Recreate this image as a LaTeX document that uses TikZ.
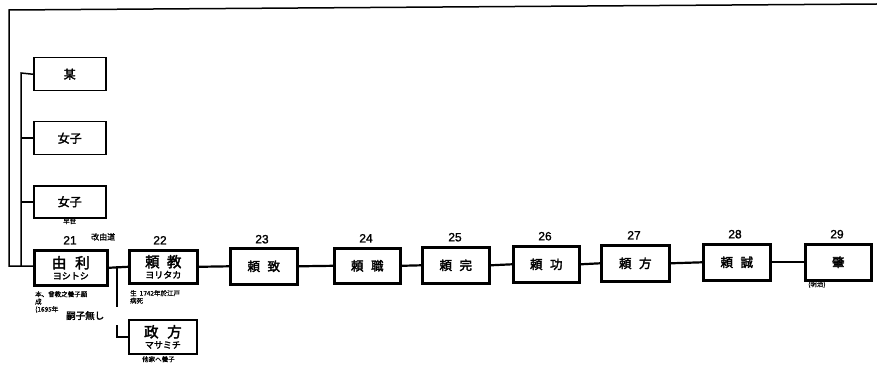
\documentclass[tikz,border=0pt]{standalone}
\usepackage{fontspec}
\newfontfamily\jp{Noto Sans CJK JP}[FakeBold=0.8]
\newfontfamily\jpb{Noto Sans CJK JP}[FakeBold=2.5]
\newfontfamily\num{Liberation Sans}[FakeBold=1.5]
\begin{document}
\begin{tikzpicture}[x=1pt,y=-1pt,
  box/.style={draw,line width=2.6pt,inner sep=0pt,anchor=north west,align=center},
  thinbox/.style={draw,line width=1.5pt,inner sep=0pt,anchor=north west,align=center},
  conn/.style={line width=2.2pt},
  thin/.style={line width=1.5pt},
  numlab/.style={font=\num\fontsize{12}{12}\selectfont,anchor=south},
  note/.style={font=\jp\fontsize{6.5}{7.5}\selectfont,inner sep=0pt,anchor=north west,align=left}]
\useasboundingbox (0,0) rectangle (877,366);
% top frame line
\coordinate (tl) at (9,10);
\coordinate (tr) at (877,4);
% boxes
\node[thinbox,minimum width=72pt,minimum height=33pt] (b1) at (33,57) {\jpb\fontsize{12}{12}\selectfont 某};
\node[thinbox,minimum width=72pt,minimum height=33pt] (b2) at (33,121) {\jpb\fontsize{12}{12}\selectfont 女子};
\node[thinbox,minimum width=72pt,minimum height=32pt] (b3) at (33,185) {\jpb\fontsize{12}{12}\selectfont 女子};
\node[box,minimum width=73pt,minimum height=35pt] (b21) at (33,249) {\jpb\fontsize{14.5}{16}\selectfont 由\hspace{0.6em}利\\[-1pt]\jpb\fontsize{9}{10}\selectfont ヨシトシ};
\node[box,minimum width=68pt,minimum height=33pt] (b22) at (128,249) {\jpb\fontsize{14.5}{16}\selectfont 頼\hspace{0.5em}教\\[-1pt]\jpb\fontsize{9}{10}\selectfont ヨリタカ};
\node[thinbox,line width=1.8pt,minimum width=68pt,minimum height=34pt] (bm) at (128,319) {\jpb\fontsize{14.5}{16}\selectfont 政\hspace{0.6em}方\\[-1pt]\jpb\fontsize{9}{10}\selectfont マサミチ};
\node[box,minimum width=67pt,minimum height=36pt] (b23) at (229,247) {\jpb\fontsize{12.5}{12}\selectfont 頼\hspace{0.6em}致};
\node[box,minimum width=66pt,minimum height=35pt] (b24) at (333,247) {\jpb\fontsize{12.5}{12}\selectfont 頼\hspace{0.6em}職};
\node[box,minimum width=67pt,minimum height=36pt] (b25) at (421,246) {\jpb\fontsize{12.5}{12}\selectfont 頼\hspace{0.6em}完};
\node[box,minimum width=66pt,minimum height=36pt] (b26) at (512,245) {\jpb\fontsize{12.5}{12}\selectfont 頼\hspace{0.6em}功};
\node[box,minimum width=68pt,minimum height=36pt] (b27) at (600,244) {\jpb\fontsize{12.5}{12}\selectfont 頼\hspace{0.6em}方};
\node[box,minimum width=67pt,minimum height=36pt] (b28) at (702,243) {\jpb\fontsize{12.5}{12}\selectfont 頼\hspace{0.6em}誠};
\node[box,minimum width=66pt,minimum height=36pt] (b29) at (804,243) {\jpb\fontsize{12.5}{12}\selectfont 肇};
% numbers
\node[numlab] (n21) at (70,248) {21};
\node[numlab] (n22) at (160,248) {22};
\node[numlab] (n23) at (262,247) {23};
\node[numlab] (n24) at (366,246) {24};
\node[numlab] (n25) at (455,245) {25};
\node[numlab] (n26) at (545,244) {26};
\node[numlab] (n27) at (634,243) {27};
\node[numlab] (n28) at (735,242) {28};
\node[numlab] (n29) at (837,242) {29};
% notes
\node[note] (t0) at (63,218) {早世};
\node[note,font=\jp\fontsize{8}{8}\selectfont] (t1) at (91,233) {改由道};
\node[note] (t2) at (35,291) {本、曾教之養子願\\成\\(1695年};
\node[note,font=\jpb\fontsize{9.5}{9.5}\selectfont] (t3) at (66,311) {嗣子無し};
\node[note] (t4) at (130,290) {生\ \ 1742年於江戸\\病死};
\node[note] (t5) at (142,356) {他家へ養子};
\node[note] (t6) at (808,281) {(明治)};
% frame and left lines
\coordinate (o1) at (9,266);
\coordinate (i1) at (21,73);
\coordinate (i2) at (21,266);
\draw[thin] (tr) -- (tl) -- (o1) -- (b21.west |- o1);
\draw[thin] (b1.west) -- (i1) -- (i2);
\draw[thin] (b2.west) -- (b2.west -| i1);
\draw[thin] (b3.west) -- (b3.west -| i1);
% main chain
\draw[conn] (b21.east) -- (b22.west);
\coordinate (br) at (117,266);
\coordinate (bb) at (117,307);
\coordinate (bc) at (117,325);
\draw[thin] (br) -- (bb);
\draw[thin] (bc) |- (bm.west);
\draw[conn] (b22.east) -- (b23.west);
\draw[conn] (b23.east) -- (b24.west);
\draw[conn] (b24.east) -- (b25.west);
\draw[conn] (b25.east) -- (b26.west);
\draw[conn] (b26.east) -- (b27.west);
\draw[conn] (b27.east) -- (b28.west);
\draw[conn] (b28.east) -- (b29.west);
\end{tikzpicture}
\end{document}
